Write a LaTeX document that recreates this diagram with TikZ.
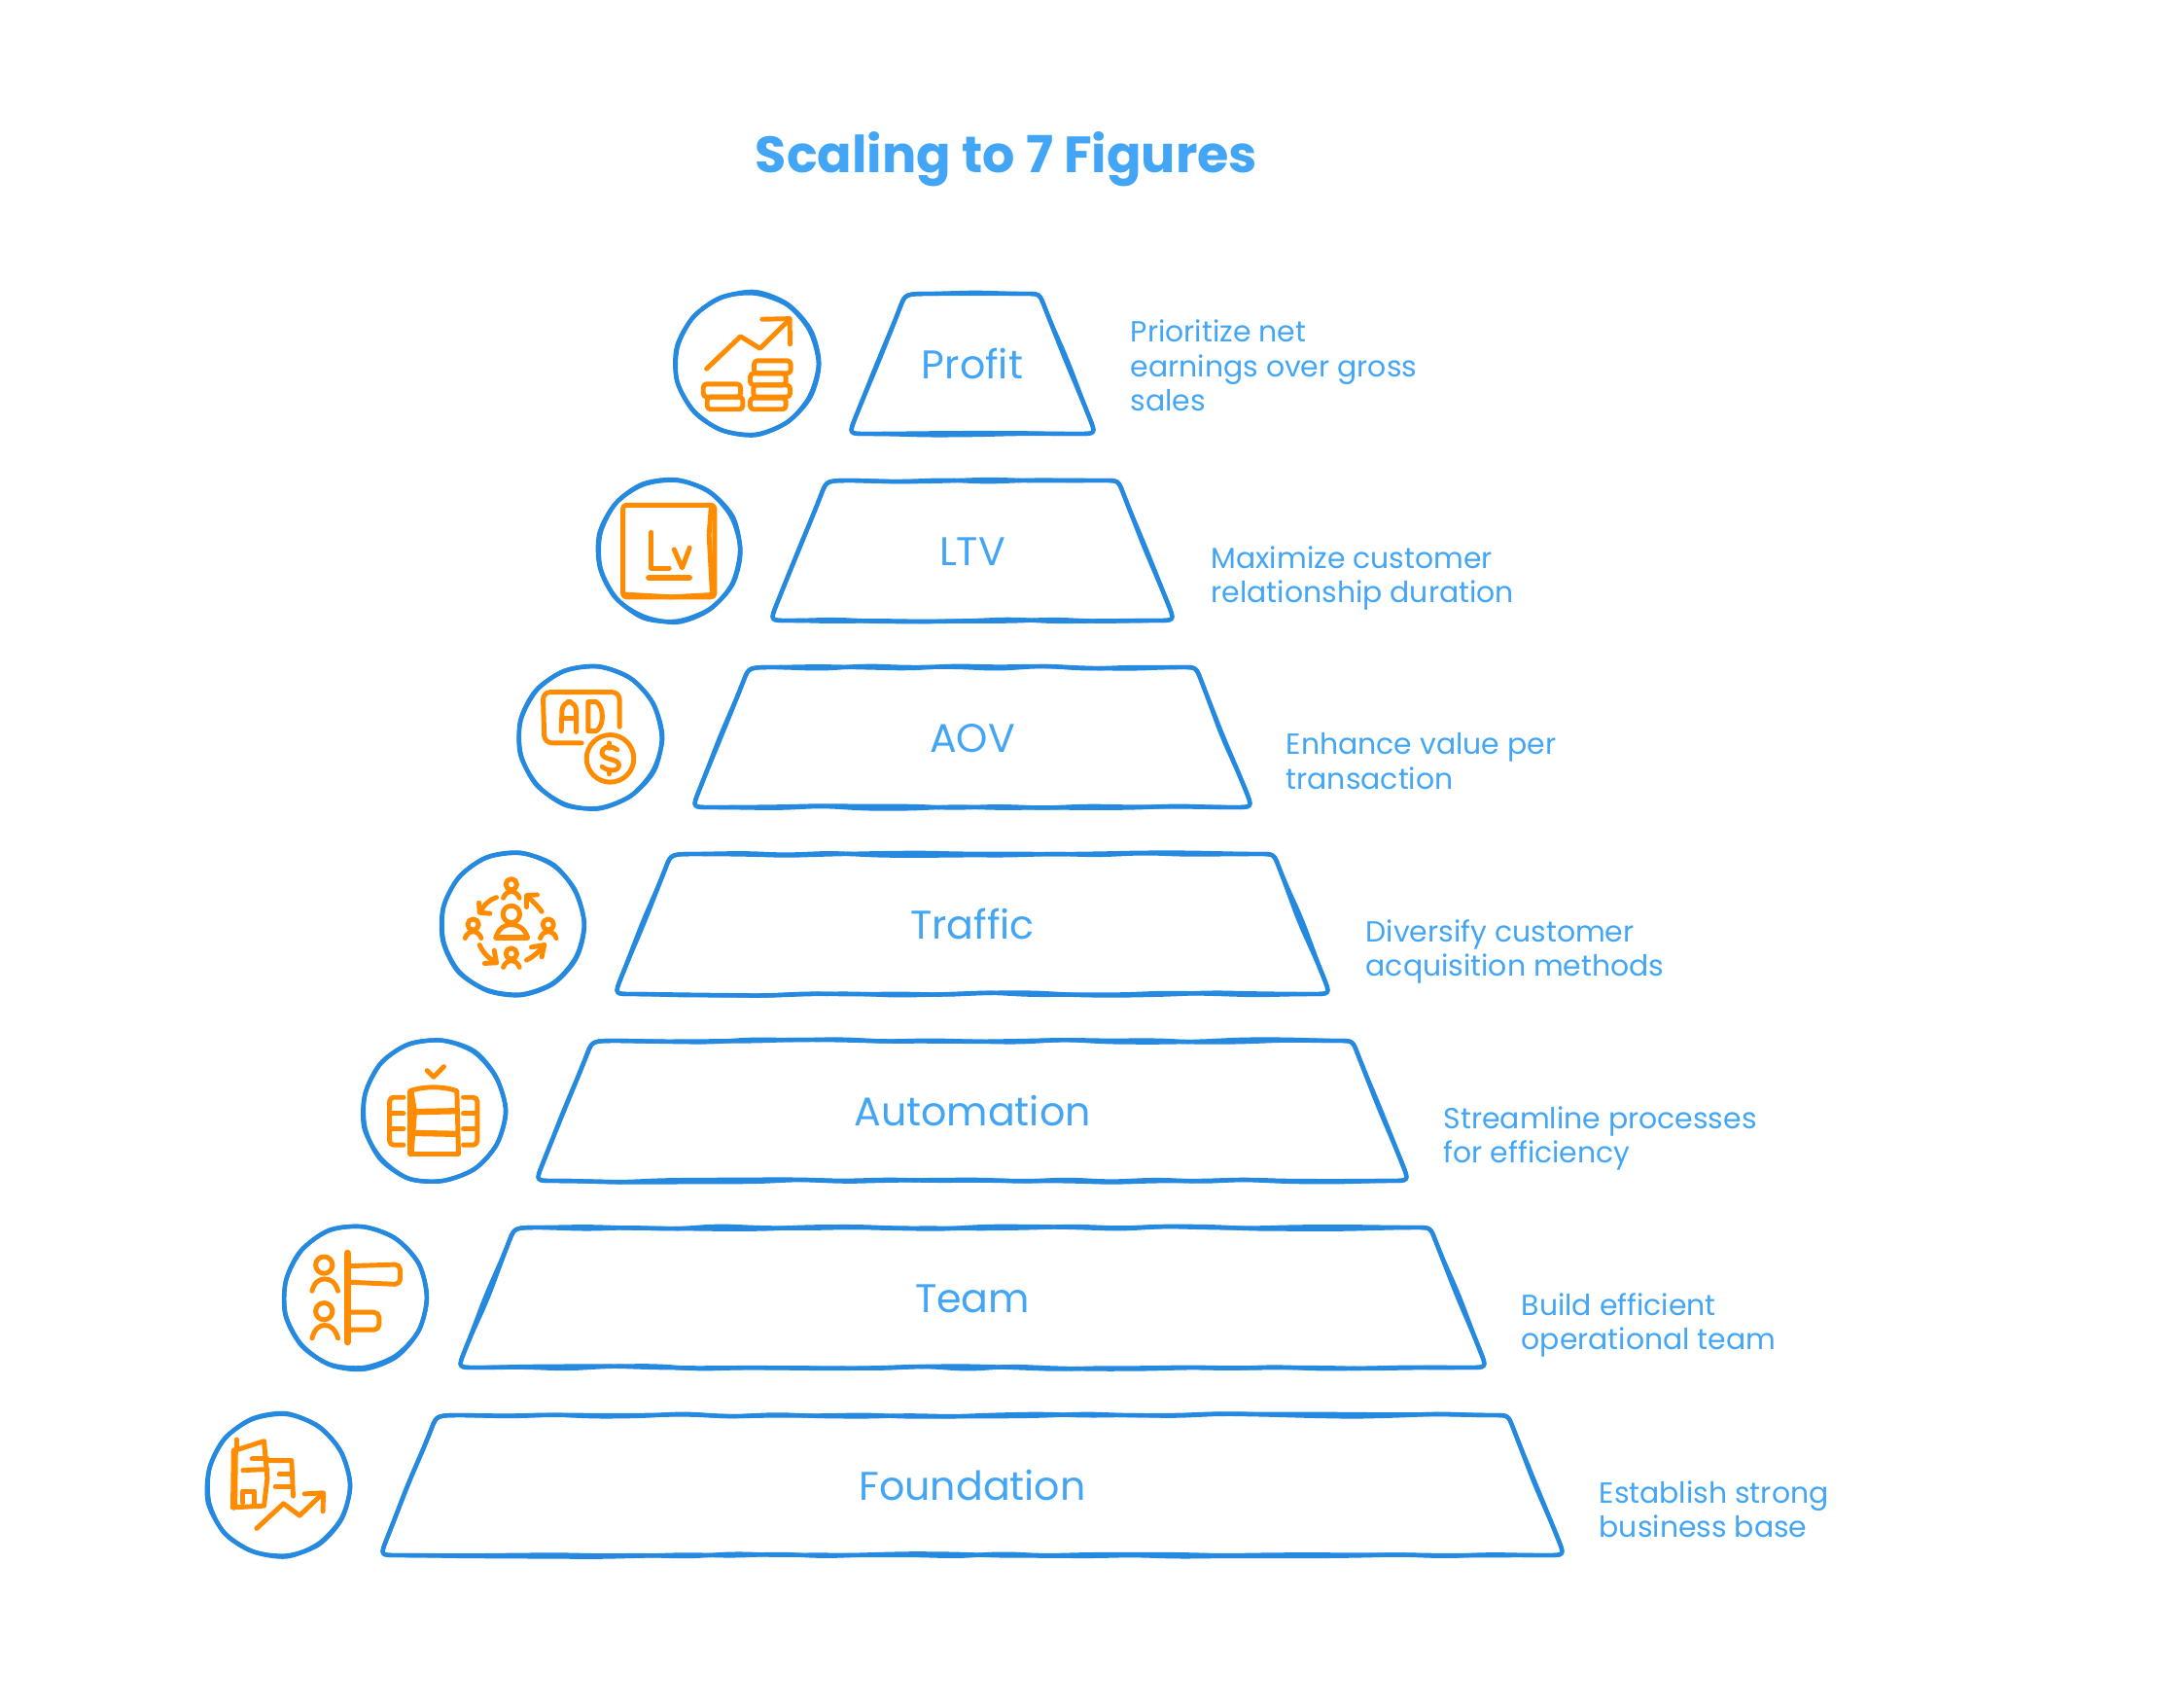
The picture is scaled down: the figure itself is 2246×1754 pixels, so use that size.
\documentclass[tikz,border=0pt]{standalone}
\usepackage{fontspec}
\usepackage{xcolor}
\setmainfont{Poppins}
\usetikzlibrary{calc}
\usetikzlibrary{decorations.pathmorphing}
\definecolor{inkblue}{HTML}{2589DF}
\definecolor{textblue}{HTML}{42A5F5}
\definecolor{inkorange}{HTML}{FF8C00}
\tikzset{
  wobble/.style={inkblue, line width=1.25pt, line join=round,
    decoration={random steps, segment length=13pt, amplitude=0.5pt}},
  lvltext/.style={textblue, text height=8.2pt, text depth=2.4pt,
    font=\fontsize{11.7}{14}\selectfont},
  notetext/.style={textblue, anchor=west, align=left, inner sep=0pt,
    execute at begin node=\strut, execute at end node=\strut,
    font=\fontsize{8.5}{10.15}\selectfont},
  icon/.style={x=0.003333cm, y=-0.003333cm, inkorange, line width=1.4pt,
    line cap=round, line join=round},
}
% outline of one step: y, half width at the foot
\newcommand\drawoutline[2]{%
  \coordinate (tl) at ({1000-#2+53},{#1-72});
  \coordinate (tr) at ({1000+#2-53},{#1-72});
  \coordinate (br) at ({1000+#2+5},{#1+72});
  \coordinate (bl) at ({1000-#2-5},{#1+72});
  \draw[wobble, rounded corners=4pt] ($(tl)+(28,0)$) decorate {-- ($(tr)+(-28,0)$)} .. controls (tr) .. ($(tr)+(10,26)$) decorate {-- ($(br)+(-12,-30)$)} .. controls (br) .. ($(br)+(-32,0)$) decorate {-- ($(bl)+(32,0)$)} .. controls (bl) .. ($(bl)+(12,-30)$) decorate {-- ($(tl)+(-10,26)$)} .. controls (tl) .. ($(tl)+(28,0)$);
}
\newcommand\drawlevel[4]{%
  \drawoutline{#1}{#2}
  \drawoutline{#1}{#2}
  \node[lvltext] (#3) at (1000,{#1+5.5}) {#4};
}
\newcommand\drawround[2]{%
  \draw[wobble] plot[smooth cycle, samples=13, domain=0:332] ({#1+(72.5+2*rnd)*cos(\x)},{#2+(72.5+2*rnd)*sin(\x)});
  \draw[wobble] plot[smooth cycle, samples=13, domain=0:332] ({#1+(72.5+2*rnd)*cos(\x)},{#2+(72.5+2*rnd)*sin(\x)});
}
\newcommand\drawperson[2]{%
  \draw (#1,#2) circle (17);
  \draw (#1-25,#2+42) .. controls (#1-20,#2+28) and (#1-10,#2+22) .. (#1,#2+22) .. controls (#1+10,#2+22) and (#1+20,#2+28) .. (#1+25,#2+42);
}

\begin{document}
\begin{tikzpicture}[x=0.01cm, y=-0.01cm]
\useasboundingbox (0,0) rectangle (2246,1754);
\pgfmathsetseed{11}
\node[textblue, font=\fontsize{14.9}{17}\selectfont\bfseries] (title) at (1035,164) {Scaling to 7 Figures};

\drawlevel{374}{122}{profit}{Profit}
\drawlevel{566}{203}{ltv}{LTV}
\drawlevel{758}{283}{aov}{AOV}
\drawlevel{950}{363}{traffic}{Traffic}
\drawlevel{1142}{444}{automation}{Automation}
\drawlevel{1334}{524}{team}{Team}
\drawlevel{1527}{604}{foundation}{Foundation}

\drawround{768}{374}
\drawround{688}{566}
\drawround{607}{758}
\drawround{527}{950}
\drawround{446}{1142}
\drawround{365}{1334}
\drawround{286}{1527}

\node[notetext] (profitnote) at (1162,381) {Prioritize net\\earnings over gross\\sales};
\node[notetext] (ltvnote) at (1245,596) {Maximize customer\\relationship duration};
\node[notetext] (aovnote) at (1322,788) {Enhance value per\\transaction};
\node[notetext] (trafficnote) at (1404,980) {Diversify customer\\acquisition methods};
\node[notetext] (automationnote) at (1484,1172) {Streamline processes\\for efficiency};
\node[notetext] (teamnote) at (1564,1364) {Build efficient\\operational team};
\node[notetext] (foundationnote) at (1644,1557) {Establish strong\\business base};

% profit icon
\begin{scope}[shift={(680,280)}, icon]
\draw (140,298) -- (245,198) -- (305,235) -- (397,145);
\draw (312,145) -- (397,143) -- (398,222);
\draw[line width=0.8pt] (165,270) -- (235,207);
\draw[line width=0.8pt] (325,215) -- (385,158);
\draw[rounded corners=1pt] (130,345) rectangle (245,385);
\draw[rounded corners=1pt] (142,385) rectangle (252,423);
\draw[rounded corners=1pt] (287,273) rectangle (400,312);
\draw[rounded corners=1pt] (275,312) rectangle (385,348);
\draw[rounded corners=1pt] (285,348) rectangle (398,385);
\draw[rounded corners=1pt] (275,388) rectangle (385,423);
\end{scope}

% ltv icon
\begin{scope}[shift={(610,490)}, icon]
\draw[rounded corners=1pt] (92,88) rectangle (375,372);
\draw (364,100) -- (358,180) -- (368,362);
\draw (100,364) -- (240,372) -- (370,365);
\draw (180,172) -- (180,283) -- (235,283);
\draw (250,225) -- (275,282) -- (298,220);
\draw[line width=1.8pt] (172,312) -- (297,312);
\end{scope}

% aov icon
\begin{scope}[shift={(520,670)}, icon]
\draw[rounded corners=2.2pt] (235,282) -- (120,282) -- (115,125) -- (352,125) -- (352,232);
\draw[rounded corners=2.5pt] (172,245) -- (175,155) -- (218,155) -- (218,248);
\draw (175,205) -- (216,205);
\draw (255,155) -- (280,155) .. controls (305,170) and (305,230) .. (280,245) -- (255,245) -- cycle;
\draw (323,330) circle (73);
\draw (345,303) .. controls (320,285) and (295,295) .. (298,315) .. controls (300,335) and (350,330) .. (350,350) .. controls (350,372) and (315,370) .. (298,355);
\draw (320,282) -- (320,298);
\draw (320,366) -- (320,378);
\end{scope}

% traffic icon
\begin{scope}[shift={(440,860)}, icon]
\draw (258,240) circle (26);
\draw (210,312) .. controls (220,280) and (240,272) .. (258,272) .. controls (280,272) and (300,285) .. (308,312) -- cycle;
\draw[line width=1.8pt] (212,312) -- (306,312);
\drawperson{258}{148}
\drawperson{140}{272}
\drawperson{372}{272}
\drawperson{258}{362}
\draw (212,188) .. controls (190,195) and (175,210) .. (162,232);
\draw (158,205) -- (160,235) -- (192,238);
\draw (352,232) .. controls (340,215) and (325,200) .. (307,185);
\draw (305,218) -- (305,182) -- (338,180);
\draw (160,335) .. controls (170,360) and (190,378) .. (212,390);
\draw (175,392) -- (212,390) -- (205,352);
\draw (305,382) .. controls (325,372) and (345,355) .. (360,335);
\draw (320,342) -- (360,335) -- (352,372);
\end{scope}

% automation icon
\begin{scope}[shift={(360,1060)}, icon]
\draw (238,122) -- (258,142) -- (290,110);
\draw (185,185) .. controls (230,170) and (285,170) .. (330,185) -- (335,380) -- (185,380) -- cycle;
\draw (190,190) -- (200,250) -- (190,375);
\draw[line width=1.8pt] (190,250) -- (330,247);
\draw[line width=1.8pt] (190,315) -- (330,318);
\draw[rounded corners=1.2pt] (165,205) -- (122,205) -- (122,352) -- (165,352);
\draw (125,255) -- (165,255);
\draw (125,302) -- (165,302);
\draw[rounded corners=1.2pt] (350,205) -- (393,205) -- (393,352) -- (350,352);
\draw (350,255) -- (390,255);
\draw (350,302) -- (390,302);
\end{scope}

% team icon
\begin{scope}[shift={(280,1250)}, icon]
\draw (160,152) circle (26);
\draw (123,232) .. controls (130,205) and (145,195) .. (162,195) .. controls (180,195) and (195,205) .. (203,232);
\draw (160,295) circle (26);
\draw (123,378) .. controls (130,350) and (145,338) .. (162,338) .. controls (180,338) and (195,350) .. (203,378);
\draw[line width=2pt] (232,115) -- (232,390);
\draw[rounded corners=1.5pt] (240,155) -- (395,150) -- (395,212) -- (240,205);
\draw[rounded corners=1.5pt] (240,298) -- (330,298) -- (330,352) -- (240,352);
\end{scope}

% foundation icon
\begin{scope}[shift={(200,1440)}, icon]
\draw (130,120) -- (130,150);
\draw[line width=2pt] (124,155) -- (122,328);
\draw (122,155) -- (215,125) -- (225,240) -- (215,325) -- (118,330);
\draw (150,315) -- (150,280) -- (185,280) -- (185,320);
\draw (178,180) -- (225,180);
\draw (150,215) -- (225,212);
\draw (230,185) -- (300,185) -- (305,295);
\draw (262,228) -- (300,228);
\draw (250,265) -- (300,265);
\draw (192,395) -- (275,318) -- (325,355) -- (395,288);
\draw (340,288) -- (398,285) -- (397,342);
\end{scope}
\end{tikzpicture}
\end{document}
